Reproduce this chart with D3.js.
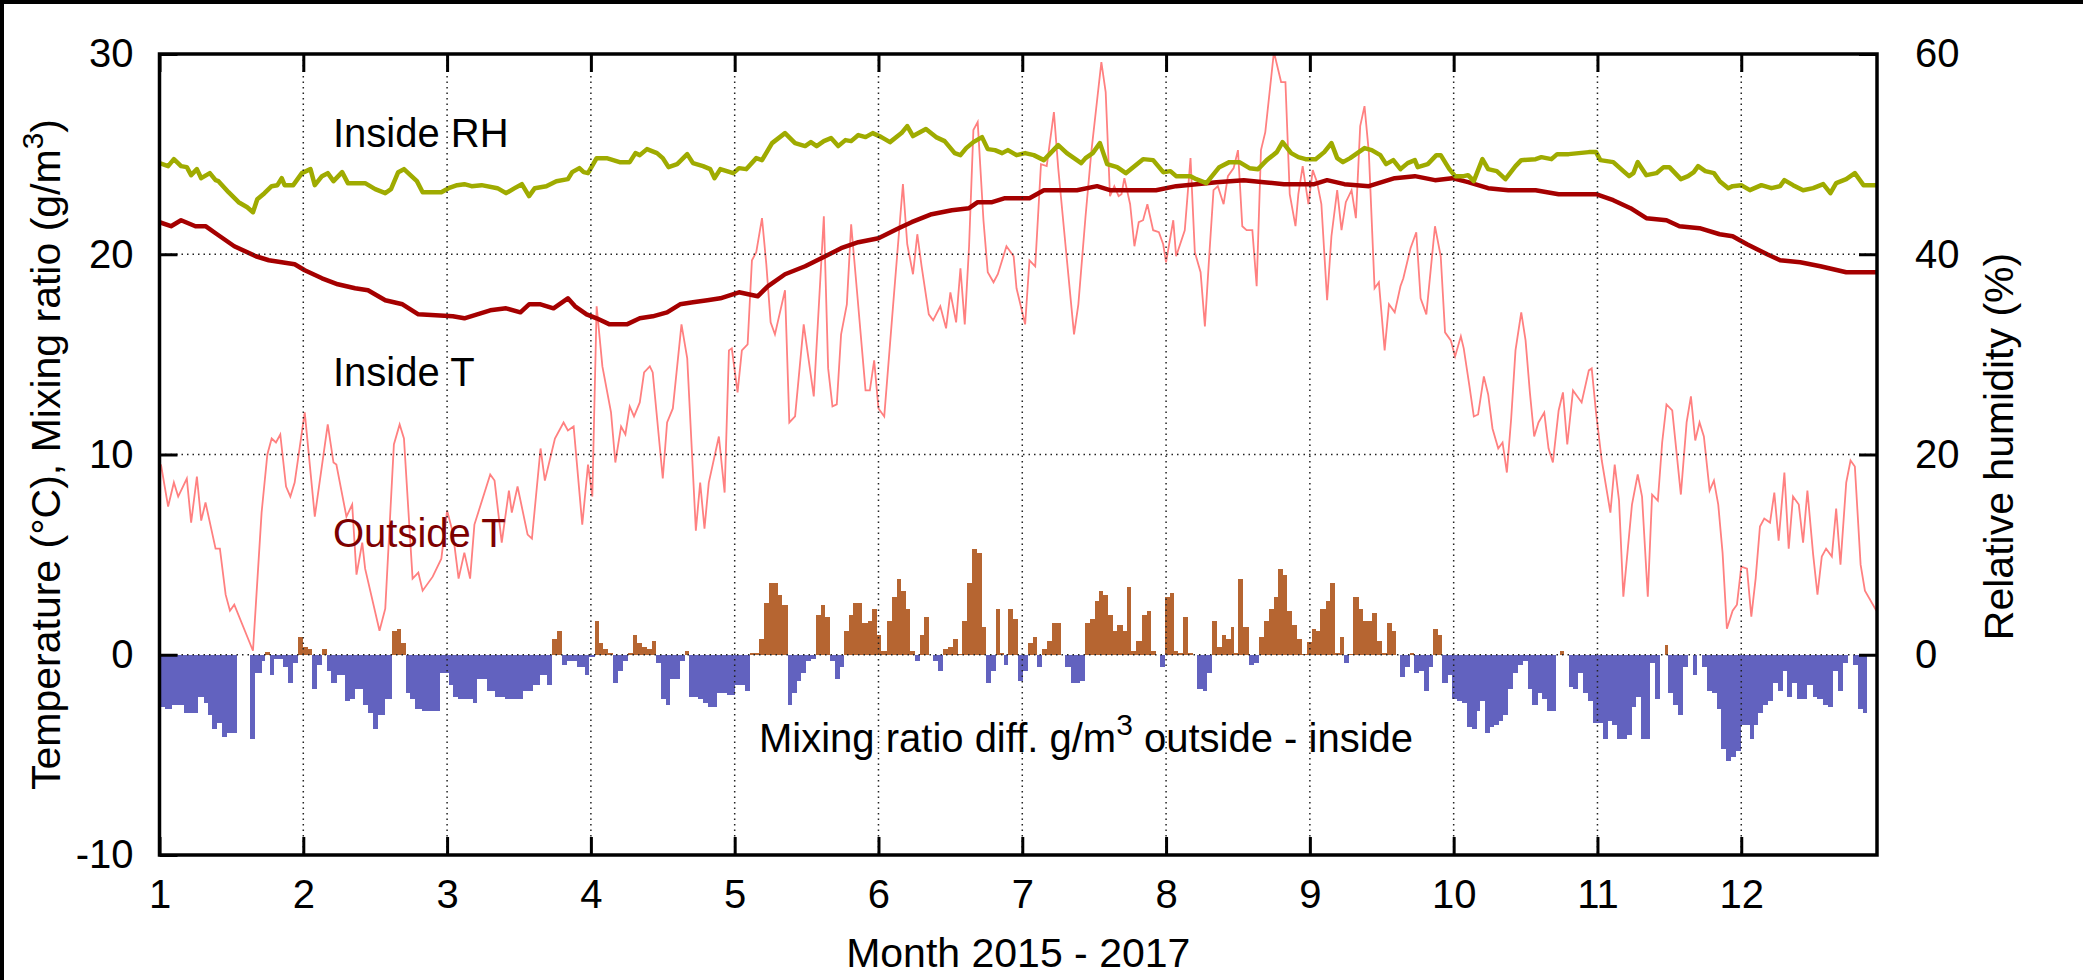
<!DOCTYPE html>
<html>
<head>
<meta charset="utf-8">
<script src="https://cdn.jsdelivr.net/npm/d3@7"></script>
<style>
  body { margin: 0; background: #fff; }
  svg text { font-family: "Liberation Sans", Arial, Helvetica, sans-serif; }
</style>
</head>
<body>
<svg id="chart" width="2083" height="980"></svg>
<script>
// month ticks along the bottom
var months = [1, 2, 3, 4, 5, 6, 7, 8, 9, 10, 11, 12];
var leftTicks = [-10, 0, 10, 20, 30];
var rightTicks = [0, 20, 40, 60];

// outside temperature, [month, degC]
var outsideT = [[1.01,9.5],[1.06,7.4],[1.10,8.6],[1.13,7.9],[1.19,8.8],[1.22,6.6],[1.26,8.9],[1.29,6.7],[1.32,7.6],[1.39,5.3],[1.42,5.3],[1.46,3.0],[1.49,2.2],[1.52,2.5],[1.65,0.2],[1.71,7.1],[1.75,10.0],[1.78,10.8],[1.81,10.6],[1.84,11.0],[1.88,8.4],[1.91,7.9],[1.94,8.6],[2.01,12.1],[2.08,6.9],[2.17,11.5],[2.21,9.6],[2.23,9.5],[2.30,6.9],[2.34,7.5],[2.37,4.0],[2.41,5.6],[2.43,4.3],[2.53,1.2],[2.57,2.3],[2.63,10.5],[2.67,11.5],[2.70,10.8],[2.76,3.8],[2.80,4.1],[2.83,3.2],[2.90,3.9],[2.96,4.8],
  [3.00,7.2],[3.04,6.1],[3.08,3.8],[3.12,5.1],[3.16,3.8],[3.19,6.5],[3.30,9.0],[3.33,8.7],[3.38,5.6],[3.43,8.2],[3.45,7.1],[3.49,8.4],[3.56,6.0],[3.59,5.8],[3.65,10.3],[3.68,8.7],[3.75,10.8],[3.81,11.6],[3.84,11.2],[3.88,11.4],[3.94,6.5],[3.98,9.5],[4.01,7.9],[4.04,17.4],[4.08,14.4],[4.14,12.1],[4.17,9.6],[4.21,11.4],[4.24,11.0],[4.27,12.4],[4.30,11.9],[4.34,12.6],[4.37,14.1],[4.41,14.4],[4.43,14.1],[4.50,8.8],[4.53,11.6],[4.57,12.3],[4.63,16.5],[4.67,14.8],[4.73,6.2],[4.76,8.6],[4.79,6.3],[4.82,8.6],[4.89,10.9],[4.93,8.1],
  [4.96,15.2],[4.98,15.3],[5.02,13.1],[5.05,15.2],[5.09,15.5],[5.12,19.7],[5.15,20.1],[5.19,21.8],[5.22,19.5],[5.25,16.6],[5.28,16.0],[5.35,18.2],[5.38,11.6],[5.42,11.9],[5.48,16.5],[5.55,12.9],[5.62,21.9],[5.65,14.3],[5.68,12.4],[5.71,12.5],[5.74,16.0],[5.78,17.5],[5.81,21.5],[5.85,18.2],[5.91,13.2],[5.94,13.2],[5.97,14.7],[6.00,12.3],[6.04,11.9],[6.10,17.3],[6.17,23.5],[6.20,20.5],[6.24,19.0],[6.27,21.0],[6.30,19.4],[6.35,17.0],[6.38,16.7],[6.43,17.4],[6.47,16.3],[6.50,18.1],[6.54,16.6],[6.57,19.3],[6.60,16.5],[6.63,20.4],[6.66,26.2],[6.69,26.6],[6.73,21.7],[6.76,19.1],[6.80,18.6],[6.83,19.0],[6.89,20.4],[6.94,19.9],
  [6.96,18.3],[7.02,16.5],[7.05,19.7],[7.09,19.4],[7.13,24.5],[7.17,24.4],[7.22,27.1],[7.25,24.3],[7.30,20.5],[7.36,16.0],[7.39,17.5],[7.44,21.9],[7.48,25.1],[7.55,29.6],[7.58,28.1],[7.61,22.9],[7.64,23.4],[7.67,22.9],[7.69,23.0],[7.71,23.8],[7.75,22.5],[7.78,20.4],[7.81,21.6],[7.84,21.7],[7.87,22.5],[7.91,21.2],[7.95,21.1],[7.98,20.5],[8.00,19.6],[8.05,21.7],[8.07,19.9],[8.13,21.2],[8.17,24.8],[8.20,20.1],[8.24,19.1],[8.27,16.4],[8.30,19.9],[8.33,23.2],[8.36,23.4],[8.40,22.5],[8.43,23.9],[8.47,24.3],[8.50,25.2],[8.53,21.4],[8.56,21.2],[8.60,21.2],[8.63,18.4],[8.66,25.2],[8.69,26.1],[8.75,30.1],[8.80,28.6],[8.83,28.6],[8.86,23.0],
  [8.90,21.4],[8.92,23.0],[8.95,24.4],[8.99,22.5],[9.02,24.2],[9.05,23.6],[9.08,22.5],[9.12,17.7],[9.15,20.9],[9.19,23.2],[9.22,21.2],[9.25,22.6],[9.29,23.2],[9.32,21.8],[9.35,26.4],[9.38,27.4],[9.41,25.1],[9.45,18.3],[9.48,18.6],[9.52,15.2],[9.55,17.5],[9.59,17.1],[9.63,18.4],[9.65,18.8],[9.70,20.3],[9.74,21.1],[9.77,17.8],[9.81,17.0],[9.87,21.4],[9.91,19.9],[9.94,16.1],[9.98,15.7],[10.01,14.9],[10.05,15.9],[10.07,15.3],[10.11,13.4],[10.14,11.9],[10.17,12.0],[10.21,13.9],[10.24,13.0],[10.27,11.3],[10.31,10.3],[10.34,10.6],[10.37,9.1],[10.40,11.8],[10.43,15.2],[10.47,17.1],[10.50,15.7],[10.53,13.1],[10.56,10.9],[10.59,11.6],[10.63,12.1],[10.66,10.3],[10.69,9.6],[10.73,12.2],[10.76,13.1],[10.79,10.5],[10.83,13.2],[10.86,12.9],[10.89,12.6],
  [10.94,14.2],[10.96,14.3],[10.99,12.1],[11.03,9.7],[11.09,7.1],[11.12,9.5],[11.15,7.7],[11.18,2.9],[11.24,7.5],[11.28,9.0],[11.31,7.9],[11.35,2.9],[11.38,8.0],[11.42,7.7],[11.45,10.6],[11.48,12.5],[11.52,12.2],[11.58,8.0],[11.62,11.6],[11.65,12.9],[11.68,10.7],[11.71,11.6],[11.74,10.9],[11.78,8.2],[11.81,8.7],[11.84,7.5],[11.87,5.1],[11.90,1.3],[11.94,2.2],[11.97,2.5],[12.00,4.4],[12.04,4.3],[12.07,1.9],[12.10,3.8],[12.13,6.4],[12.16,6.8],[12.20,6.6],[12.23,8.1],[12.26,5.7],[12.30,9.1],[12.33,5.3],[12.36,7.9],[12.40,7.5],[12.43,5.6],[12.46,8.2],[12.50,5.0],[12.53,3.0],[12.56,4.9],[12.59,5.3],[12.63,4.9],[12.66,7.3],[12.69,4.5],[12.73,8.6],[12.76,9.7],[12.79,9.4],[12.83,4.5],[12.86,3.2],[12.94,2.2]];

// inside temperature, [month, degC]
var insideT = [[1.00,21.6],[1.08,21.4],[1.15,21.7],[1.25,21.4],[1.32,21.4],[1.40,21.0],[1.52,20.4],[1.67,19.9],[1.76,19.7],[1.85,19.6],[1.94,19.5],[2.01,19.2],[2.13,18.8],[2.24,18.5],[2.36,18.3],[2.45,18.2],[2.57,17.7],[2.69,17.5],[2.80,17.0],[3.04,16.9],[3.12,16.8],[3.30,17.2],[3.41,17.3],[3.51,17.1],[3.57,17.5],[3.65,17.5],[3.74,17.3],[3.84,17.8],[3.89,17.4],[3.97,17.0],[4.04,16.8],[4.13,16.5],[4.25,16.5],[4.34,16.8],[4.43,16.9],[4.53,17.1],[4.62,17.5],[4.71,17.6],[4.81,17.7],[4.90,17.8],[5.03,18.1],[5.16,17.9],[5.23,18.4],[5.35,19.0],[5.49,19.4],[5.63,19.9],[5.74,20.3],[5.86,20.6],[6.00,20.8],[6.14,21.3],[6.23,21.6],[6.37,22.0],[6.51,22.2],[6.63,22.3],[6.69,22.6],[6.79,22.6],[6.88,22.8],[7.05,22.8],[7.15,23.2],[7.38,23.2],[7.52,23.4],[7.61,23.2],[7.93,23.2],[8.07,23.4],[8.21,23.5],[8.35,23.6],[8.54,23.7],[8.68,23.6],[8.82,23.5],[9.03,23.5],[9.12,23.7],[9.24,23.5],[9.41,23.4],[9.59,23.8],[9.73,23.9],[9.87,23.7],[9.99,23.8],[10.10,23.6],[10.24,23.3],[10.38,23.2],[10.57,23.2],[10.73,23.0],[10.99,23.0],[11.11,22.7],[11.23,22.3],[11.34,21.8],[11.48,21.7],[11.57,21.4],[11.71,21.3],[11.85,21.0],[11.94,20.9],[12.04,20.5],[12.18,20.0],[12.27,19.7],[12.41,19.6],[12.55,19.4],[12.73,19.1],[12.94,19.1]];

// inside relative humidity, [month, %]  (right axis)
var insideRH = [[1.00,49.1],[1.06,48.8],[1.10,49.5],[1.15,48.8],[1.19,48.7],[1.22,47.9],[1.26,48.5],[1.29,47.6],[1.35,48.1],[1.39,47.4],[1.41,47.3],[1.48,46.2],[1.55,45.2],[1.61,44.7],[1.65,44.2],[1.68,45.5],[1.73,46.1],[1.78,46.8],[1.82,46.9],[1.85,47.6],[1.87,46.9],[1.93,46.9],[1.99,48.1],[2.05,48.5],[2.08,46.9],[2.13,47.8],[2.17,48.1],[2.21,47.3],[2.27,48.2],[2.31,47.1],[2.43,47.1],[2.50,46.5],[2.57,46.1],[2.61,46.5],[2.66,48.2],[2.70,48.5],[2.73,48.1],[2.79,47.3],[2.83,46.2],[2.96,46.2],[3.01,46.6],[3.07,46.9],[3.12,47.0],[3.17,46.8],[3.24,46.9],[3.35,46.6],[3.41,46.1],[3.47,46.6],[3.52,47.0],[3.57,45.8],[3.61,46.6],[3.69,46.8],[3.76,47.3],[3.84,47.5],[3.87,48.2],[3.92,48.6],[3.95,48.2],[3.98,48.1],[4.04,49.6],[4.11,49.6],[4.20,49.2],[4.27,49.2],[4.31,50.1],[4.34,49.9],[4.39,50.5],[4.46,50.1],[4.50,49.6],[4.54,48.7],[4.60,49.0],[4.67,50.0],[4.71,49.1],[4.78,48.8],[4.83,48.5],[4.86,47.6],[4.90,48.5],[4.99,48.1],[5.03,48.6],[5.08,48.5],[5.15,49.6],[5.19,49.4],[5.26,51.1],[5.35,52.1],[5.42,51.1],[5.49,50.8],[5.53,51.2],[5.57,50.8],[5.62,51.3],[5.67,51.6],[5.72,50.8],[5.77,51.4],[5.81,51.3],[5.86,51.9],[5.91,51.7],[5.96,52.1],[6.02,51.7],[6.08,51.2],[6.16,52.1],[6.20,52.8],[6.24,51.8],[6.33,52.5],[6.40,51.7],[6.46,51.3],[6.53,50.1],[6.57,49.9],[6.61,50.6],[6.66,51.2],[6.72,51.7],[6.76,50.5],[6.81,50.4],[6.86,50.1],[6.90,50.4],[6.96,49.9],[7.02,50.1],[7.08,49.9],[7.15,49.4],[7.25,50.9],[7.31,50.1],[7.37,49.5],[7.41,49.1],[7.44,49.6],[7.49,50.1],[7.54,51.1],[7.59,49.0],[7.66,48.7],[7.72,48.1],[7.78,48.8],[7.84,49.5],[7.91,49.4],[7.98,48.2],[8.03,48.3],[8.07,47.8],[8.17,47.8],[8.21,47.5],[8.28,47.1],[8.37,48.7],[8.44,49.2],[8.51,49.2],[8.58,48.6],[8.64,48.5],[8.70,49.4],[8.77,50.2],[8.81,51.2],[8.87,50.1],[8.92,49.7],[8.97,49.5],[9.04,49.5],[9.10,50.2],[9.15,51.1],[9.19,49.6],[9.23,49.2],[9.28,49.6],[9.38,50.6],[9.43,50.4],[9.49,49.9],[9.53,49.0],[9.58,49.4],[9.63,48.5],[9.68,49.1],[9.73,49.4],[9.75,48.7],[9.82,49.0],[9.88,49.9],[9.91,49.9],[9.97,48.5],[10.01,47.8],[10.07,47.8],[10.10,47.9],[10.14,47.3],[10.20,49.5],[10.24,48.5],[10.30,48.3],[10.36,47.5],[10.43,48.8],[10.47,49.4],[10.57,49.5],[10.61,49.7],[10.68,49.5],[10.72,50.0],[10.80,50.0],[10.87,50.1],[10.94,50.2],[10.99,50.2],[11.02,49.4],[11.11,49.2],[11.18,48.3],[11.22,47.8],[11.25,48.1],[11.28,49.2],[11.34,47.9],[11.41,48.1],[11.46,48.7],[11.50,48.7],[11.58,47.5],[11.63,47.8],[11.67,48.2],[11.70,48.8],[11.75,48.3],[11.81,48.1],[11.85,47.3],[11.91,46.6],[11.94,46.8],[12.00,46.9],[12.06,46.4],[12.14,46.9],[12.21,46.6],[12.27,46.8],[12.30,47.4],[12.36,46.9],[12.43,46.4],[12.50,46.6],[12.57,47.0],[12.62,46.1],[12.66,47.1],[12.73,47.5],[12.79,48.1],[12.85,46.9],[12.94,46.9]];

// mixing ratio difference outside - inside, [bar start month, g/m3]; each bar runs to the next start
var mixDiff = [[1.00,-2.6],[1.04,-2.7],[1.085,-2.5],[1.173,-2.9],[1.265,-2.1],[1.312,-2.4],[1.34,-3.0],[1.367,-3.7],[1.397,-3.4],[1.432,-4.1],[1.467,-3.9],[1.537,0],[1.629,-4.2],[1.664,-0.9],[1.71,-0.3],[1.734,0.15],[1.768,-1.0],[1.798,-0.2],[1.861,-0.6],[1.896,-1.4],[1.931,-0.4],[1.961,0.9],[2.0,0.4],[2.035,0.3],[2.058,-1.7],[2.093,-0.5],[2.128,0.3],[2.162,-0.8],[2.193,-1.4],[2.232,-1.0],[2.29,-2.3],[2.325,-2.2],[2.36,-1.7],[2.418,-2.5],[2.452,-2.9],[2.487,-3.7],[2.522,-3.0],[2.568,-2.2],[2.614,1.2],[2.649,1.3],[2.68,0.6],[2.712,-1.9],[2.742,-2.2],[2.777,-2.7],[2.823,-2.8],
  [2.95,-0.9],[3.01,-1.5],[3.043,-2.1],[3.078,-2.2],[3.182,-2.4],[3.206,-1.2],[3.275,-1.8],[3.333,-2.1],[3.403,-2.2],[3.53,-1.8],[3.60,-1.5],[3.646,-1.0],[3.697,-1.5],[3.727,0.8],[3.762,1.2],[3.797,-0.5],[3.831,-0.3],[3.901,-0.6],[3.959,-1.0],[3.989,-0.1],[4.028,1.7],[4.059,0.6],[4.086,0.3],[4.121,0.1],[4.156,-1.4],[4.191,-0.8],[4.225,-0.3],[4.26,0.1],[4.29,1.0],[4.318,0.6],[4.353,0.4],[4.388,0.3],[4.423,0.7],[4.453,-0.4],[4.485,-2.2],[4.522,-2.5],[4.55,-1.2],[4.62,-0.3],[4.654,0.2],[4.684,-2.1],[4.747,-2.2],[4.782,-2.4],[4.817,-2.6],[4.875,-1.9],[4.944,-2.0],
  [5.0,-1.5],[5.071,-1.8],[5.106,0.1],[5.171,0.8],[5.206,2.6],[5.238,3.6],[5.303,3.0],[5.331,2.5],[5.368,-2.5],[5.396,-1.9],[5.431,-1.3],[5.461,-0.9],[5.496,-0.3],[5.53,-0.2],[5.563,2.0],[5.6,2.5],[5.628,1.9],[5.663,-0.3],[5.697,-1.2],[5.732,-0.6],[5.762,1.2],[5.795,2.0],[5.825,2.6],[5.887,1.6],[5.925,1.7],[5.957,2.3],[5.987,1.0],[6.017,0.2],[6.057,1.7],[6.091,2.9],[6.126,3.8],[6.156,3.2],[6.189,2.3],[6.219,0.2],[6.254,-0.3],[6.289,1.0],[6.319,1.9],[6.351,0],[6.381,-0.3],[6.416,-0.8],[6.451,0.3],[6.486,0.4],[6.52,0.8],[6.55,0.05],[6.583,1.7],[6.613,3.6],[6.648,5.3],[6.683,5.1],[6.717,1.4],[6.747,-1.4],[6.782,-0.8],[6.815,2.3],[6.845,0.1],[6.875,-0.5],[6.903,2.3],[6.938,1.8],
  [6.972,-1.3],[7.007,-0.8],[7.042,0.6],[7.072,0.9],[7.105,-0.6],[7.139,0.3],[7.174,0.7],[7.204,1.6],[7.267,0],[7.297,-0.6],[7.336,-1.4],[7.401,-1.3],[7.436,1.6],[7.471,1.8],[7.506,2.7],[7.536,3.2],[7.564,3.0],[7.598,2.0],[7.628,1.2],[7.661,1.5],[7.698,1.2],[7.726,3.4],[7.754,0.2],[7.791,0.7],[7.83,2.0],[7.865,2.2],[7.893,0.2],[7.93,0],[7.958,-0.6],[7.992,2.9],[8.027,3.1],[8.055,0.2],[8.085,0.1],[8.12,1.9],[8.155,0.1],[8.185,0],[8.217,-1.7],[8.254,-1.8],[8.287,-0.9],[8.317,1.7],[8.352,0.4],[8.386,1.0],[8.417,0.8],[8.449,1.4],[8.472,0.1],[8.502,3.8],[8.537,1.4],[8.579,-0.5],[8.611,-0.4],[8.648,0.9],[8.681,1.7],[8.718,2.3],[8.75,2.9],[8.78,4.3],[8.81,4.0],[8.839,2.2],[8.873,1.5],[8.908,0.8],
  [8.943,0.05],[8.977,0.65],[9.012,1.3],[9.04,1.2],[9.07,2.3],[9.11,2.7],[9.14,3.6],[9.174,0.1],[9.209,0.9],[9.24,-0.4],[9.272,0.05],[9.302,2.9],[9.342,2.3],[9.372,1.7],[9.434,2.1],[9.464,0.7],[9.504,0.1],[9.534,1.6],[9.569,1.2],[9.596,0],[9.627,-1.1],[9.661,-0.6],[9.696,0.1],[9.726,-0.9],[9.759,-0.8],[9.796,-1.8],[9.828,-0.6],[9.858,1.3],[9.889,1.0],[9.921,-1.4],[9.963,-1.0],[9.99,-2.2],[10.021,-2.3],[10.055,-2.4],[10.09,-3.6],[10.125,-3.7],[10.16,-2.8],[10.183,-2.3],[10.218,-3.9],[10.252,-3.6],[10.283,-3.5],[10.315,-3.3],[10.345,-3.0],[10.38,-1.7],[10.415,-0.9],[10.45,-0.5],[10.484,-0.3],[10.514,-1.7],[10.547,-2.5],[10.584,-1.9],[10.616,-2.2],[10.647,-2.8],[10.709,0],[10.739,0.2],[10.769,0],[10.802,-1.6],[10.832,-1.7],[10.867,-0.9],[10.902,-1.9],
  [10.936,-2.3],[10.971,-3.4],[11.04,-4.2],[11.075,-3.3],[11.098,-3.5],[11.138,-4.2],[11.203,-4.0],[11.237,-2.6],[11.267,-2.1],[11.3,-4.2],[11.365,-0.4],[11.4,-2.2],[11.434,0],[11.469,0.5],[11.492,-1.9],[11.527,-2.5],[11.562,-3.0],[11.597,-0.6],[11.631,0],[11.661,-1.0],[11.694,0],[11.724,-0.6],[11.759,-1.8],[11.794,-1.9],[11.828,-2.7],[11.856,-4.7],[11.893,-5.3],[11.926,-5.1],[11.963,-4.8],[11.995,-3.5],[12.025,-3.5],[12.06,-4.2],[12.088,-3.5],[12.118,-2.9],[12.153,-2.5],[12.188,-2.3],[12.222,-1.4],[12.257,-1.8],[12.287,-0.8],[12.32,-2.1],[12.35,-1.4],[12.385,-2.2],[12.459,-1.5],[12.5,-2.1],[12.528,-2.2],[12.565,-2.5],[12.605,-2.6],[12.64,-0.8],[12.675,-1.8],[12.709,-0.4],[12.744,0],[12.779,-0.5],[12.813,-2.7],[12.844,-2.9],[12.876,0]];

var svg = d3.select("#chart");
var L = 159.5, R = 1877, T = 54, B = 855;
var FS = 40;

var x = d3.scaleLinear().domain([1, 12.944]).range([L, R]);
var y = d3.scaleLinear().domain([-10, 30]).range([B, T]);
var yR = d3.scaleLinear().domain([-20, 60]).range([B, T]);

// black frame strips at top and left edge of the picture
svg.append("rect").attr("x", 0).attr("y", 0).attr("width", 2083).attr("height", 4).attr("fill", "#000");
svg.append("rect").attr("x", 0).attr("y", 0).attr("width", 4).attr("height", 980).attr("fill", "#000");

svg.append("clipPath").attr("id", "plotclip")
  .append("rect").attr("x", L).attr("y", T).attr("width", R - L).attr("height", B - T);

var plot = svg.append("g").attr("clip-path", "url(#plotclip)");

// bars
var bars = mixDiff.slice(0, -1).map(function(d, i) {
  return {x0: d[0], x1: mixDiff[i + 1][0], v: d[1]};
}).filter(function(d) { return d.v != 0; });

plot.selectAll("rect.bar")
  .data(bars)
  .enter().append("rect")
  .attr("class", "bar")
  .attr("x", function(d) { return x(d.x0); })
  .attr("width", function(d) { return x(d.x1) - x(d.x0); })
  .attr("y", function(d) { return y(Math.max(0, d.v)); })
  .attr("height", function(d) { return Math.abs(y(d.v) - y(0)); })
  .attr("fill", function(d) { return d.v > 0 ? "#b66531" : "#6262bf"; })
  .attr("shape-rendering", "crispEdges");

// grid
var grid = svg.append("g").attr("stroke", "#222").attr("stroke-width", 1.5).attr("stroke-dasharray", "1.5,4");
grid.selectAll("line.gy").data([0, 10, 20]).enter().append("line")
  .attr("x1", L).attr("x2", R).attr("y1", function(d) { return y(d); }).attr("y2", function(d) { return y(d); });
grid.selectAll("line.gx").data(months.slice(1)).enter().append("line")
  .attr("x1", function(d) { return x(d); }).attr("x2", function(d) { return x(d); }).attr("y1", T).attr("y2", B);

// lines
var line = d3.line().x(function(d) { return x(d[0]); }).y(function(d) { return y(d[1]); });
var lineR = d3.line().x(function(d) { return x(d[0]); }).y(function(d) { return yR(d[1]); });

plot.append("path").datum(outsideT).attr("d", line)
  .attr("fill", "none").attr("stroke", "#ff8080").attr("stroke-width", 1.8);
plot.append("path").datum(insideT).attr("d", line)
  .attr("fill", "none").attr("stroke", "#a50000").attr("stroke-width", 4.5).attr("stroke-linejoin", "round");
plot.append("path").datum(insideRH).attr("d", lineR)
  .attr("fill", "none").attr("stroke", "#9fab00").attr("stroke-width", 4.5).attr("stroke-linejoin", "round");

// labels inside the plot
var lab = svg.append("g").attr("font-size", FS);
lab.append("text").attr("x", 333).attr("y", 147).text("Inside RH");
lab.append("text").attr("x", 333).attr("y", 386).text("Inside T");
lab.append("text").attr("x", 333).attr("y", 547).attr("fill", "#7d0000").text("Outside T");
var mix = lab.append("text").attr("x", 759).attr("y", 752);
mix.append("tspan").text("Mixing ratio diff. g/m");
mix.append("tspan").attr("dy", -17).attr("font-size", 30).text("3");
mix.append("tspan").attr("dy", 17).text(" outside - inside");

// axes
function fmt(d) { return String(d); }
function styleAxis(g) {
  g.select(".domain").remove();
  g.attr("font-family", null).attr("font-size", FS);
  g.selectAll(".tick line").attr("stroke", "#000").attr("stroke-width", 3);
  g.selectAll(".tick text").attr("fill", "#000");
}

svg.append("g").attr("transform", "translate(0," + B + ")")
  .call(d3.axisBottom(x).tickValues(months).tickSize(-18).tickPadding(25).tickFormat(fmt))
  .call(styleAxis);
svg.append("g").attr("transform", "translate(0," + T + ")")
  .call(d3.axisTop(x).tickValues(months).tickSize(-18).tickFormat(""))
  .call(styleAxis);
svg.append("g").attr("transform", "translate(" + L + ",0)")
  .call(d3.axisLeft(y).tickValues(leftTicks).tickSize(-18).tickPadding(26).tickFormat(fmt))
  .call(styleAxis);
svg.append("g").attr("transform", "translate(" + R + ",0)")
  .call(d3.axisRight(yR).tickValues(rightTicks).tickSize(-18).tickPadding(38).tickFormat(fmt))
  .call(styleAxis);

// border
svg.append("rect").attr("x", L).attr("y", T).attr("width", R - L).attr("height", B - T)
  .attr("fill", "none").attr("stroke", "#000").attr("stroke-width", 3.5);

// axis titles
svg.append("text").attr("x", (L + R) / 2).attr("y", 967).attr("text-anchor", "middle")
  .attr("font-size", 41).text("Month 2015 - 2017");

var yl = svg.append("text").attr("transform", "translate(60," + ((T + B) / 2) + ") rotate(-90)")
  .attr("text-anchor", "middle").attr("font-size", 41);
yl.append("tspan").text("Temperature (°C), Mixing ratio (g/m");
yl.append("tspan").attr("dy", -17).attr("font-size", 30).text("3");
yl.append("tspan").attr("dy", 17).text(")");

svg.append("text").attr("transform", "translate(2013," + ((T + B) / 2 - 8) + ") rotate(-90)")
  .attr("text-anchor", "middle").attr("font-size", 41).text("Relative humidity (%)");
</script>
</body>
</html>
